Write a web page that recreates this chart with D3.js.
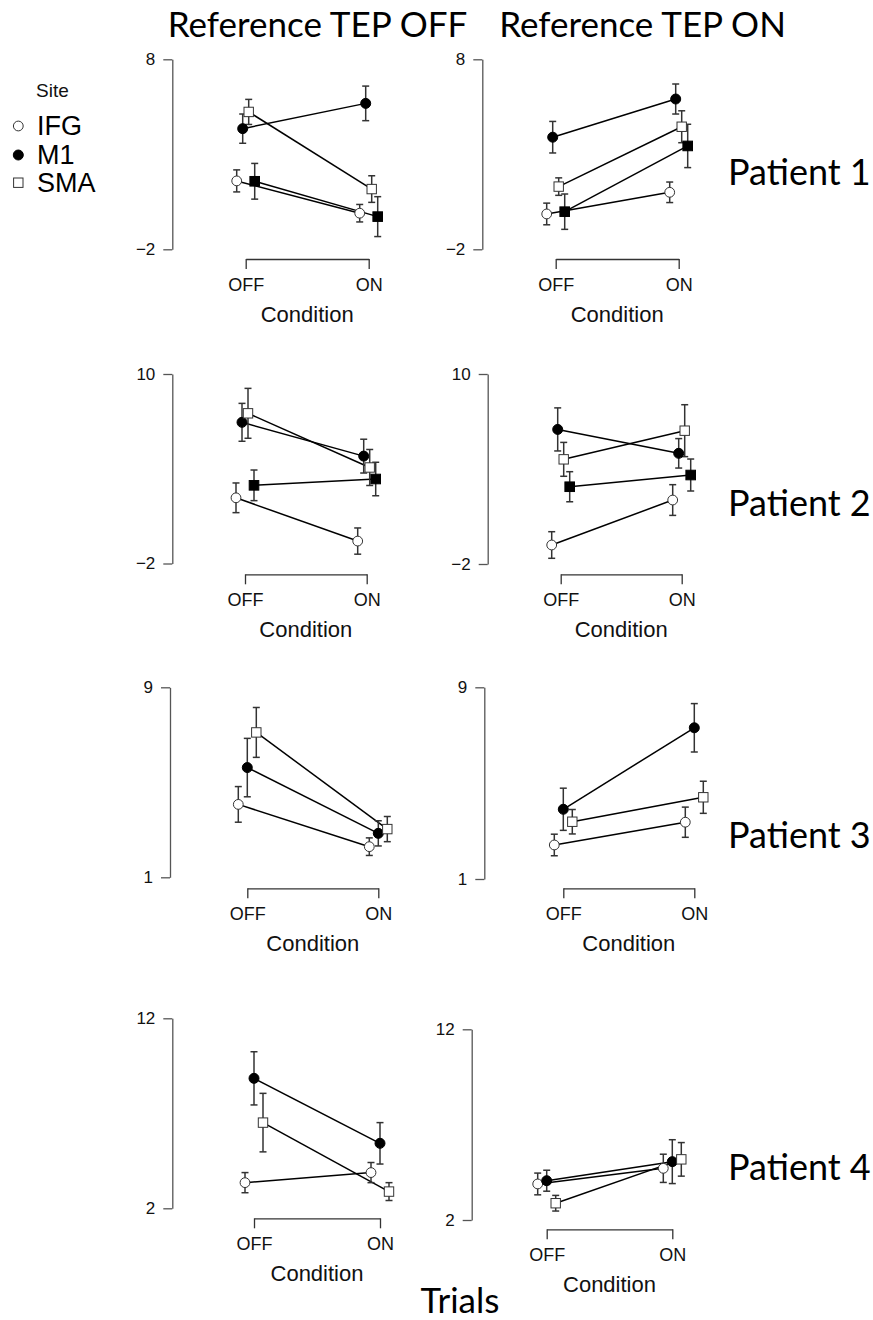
<!DOCTYPE html>
<html>
<head>
<meta charset="utf-8">
<script src="https://cdn.jsdelivr.net/npm/d3@7"></script>
<style>
  html, body { margin: 0; padding: 0; background: #fff; }
  svg { display: block; }
</style>
</head>
<body>
<svg id="chart" width="873" height="1320"></svg>
<script>
// ---------------- DATA ----------------
const conditions = ["OFF", "ON"];
const references = ["Reference TEP OFF", "Reference TEP ON"];
const patients = ["Patient 1", "Patient 2", "Patient 3", "Patient 4"];
const legendSites = ["IFG", "M1", "SMA"];
// 4th series (filled square) appears in patients 1-2 only and is not labelled in the legend
const sites4 = ["IFG", "M1", "SMA", "Unlabelled"];
const sites3 = ["IFG", "M1", "SMA"];
const yTickValues = [[-2, 8], [-2, 10], [1, 9], [2, 12]];
const axisTitle = "Condition";
const bottomTitle = "Trials";

// means [OFF, ON] per site, per panel
const p1RefOffMeans = [[1.6, -0.1], [4.35, 5.68], [5.23, 1.17], [1.58, -0.28]];
const p1RefOffErr   = [[0.58, 0.46], [0.77, 0.91], [0.66, 0.70], [0.94, 1.05]];
const p1RefOnMeans  = [[-0.14, 1.0], [3.9, 5.91], [1.3, 4.45], [-0.02, 3.44]];
const p1RefOnErr    = [[0.57, 0.54], [0.83, 0.79], [0.46, 0.84], [0.93, 1.14]];

const p2RefOffMeans = [[2.16, -0.58], [6.94, 4.8], [7.51, 4.08], [2.95, 3.35]];
const p2RefOffErr   = [[0.94, 0.83], [1.2, 1.07], [1.58, 1.14], [0.97, 1.06]];
const p2RefOnMeans  = [[-0.8, 2.04], [6.5, 4.99], [4.61, 6.42], [2.88, 3.62]];
const p2RefOnErr    = [[0.84, 0.97], [1.36, 0.93], [1.07, 1.64], [0.95, 1.01]];

const p3RefOffMeans = [[4.07, 2.29], [5.62, 2.85], [7.1, 3.03]];
const p3RefOffErr   = [[0.75, 0.37], [1.23, 0.53], [1.05, 0.53]];
const p3RefOnMeans  = [[2.42, 3.37], [3.91, 7.31], [3.39, 4.41]];
const p3RefOnErr    = [[0.45, 0.63], [0.88, 1.01], [0.51, 0.67]];

const p4RefOffMeans = [[3.35, 3.88], [8.84, 5.42], [6.51, 2.88]];
const p4RefOffErr   = [[0.53, 0.53], [1.4, 1.09], [1.54, 0.47]];
const p4RefOnMeans  = [[3.89, 4.71], [4.06, 5.06], [2.88, 5.18]];
const p4RefOnErr    = [[0.57, 0.74], [0.55, 1.15], [0.41, 0.88]];

// ---------------- LAYOUT (positions only) ----------------
// yAxisX, yBottom, yTop, xOff, xOn, xAxisY
const panelFrames = [
  [[172.3, 249.3, 59.3, 245.7, 368.7, 259], [482.3, 249.3, 59.3, 555.7, 678.7, 259]],
  [[172.3, 563.5, 374, 245, 366.7, 574.3], [487.7, 564, 374, 560.7, 681.7, 574.3]],
  [[170, 877.3, 687.3, 247.3, 378.3, 888.3], [484.3, 879, 687.3, 563.3, 694.3, 888.3]],
  [[172.3, 1208.3, 1018.3, 254, 380, 1218.3], [471.7, 1220, 1029.3, 546.7, 672.3, 1229.3]]
];
const panelData = [
  [[p1RefOffMeans, p1RefOffErr], [p1RefOnMeans, p1RefOnErr]],
  [[p2RefOffMeans, p2RefOffErr], [p2RefOnMeans, p2RefOnErr]],
  [[p3RefOffMeans, p3RefOffErr], [p3RefOnMeans, p3RefOnErr]],
  [[p4RefOffMeans, p4RefOffErr], [p4RefOnMeans, p4RefOnErr]]
];
const patientLabelY = [185, 516, 848, 1180];

const sansR = "'Liberation Sans', Arial, sans-serif";
const sansC = "Lato, 'Open Sans', sans-serif";
const axisColor = "#555";

const svg = d3.select("#chart");

// symbol drawing
function drawMarker(g, site, x, y) {
  if (site === "IFG") {
    g.append("circle").attr("cx", x).attr("cy", y).attr("r", 4.9)
      .attr("fill", "#fff").attr("stroke", "#333").attr("stroke-width", 1);
  } else if (site === "M1") {
    g.append("circle").attr("cx", x).attr("cy", y).attr("r", 5)
      .attr("fill", "#000").attr("stroke", "#000").attr("stroke-width", 1);
  } else if (site === "SMA") {
    g.append("rect").attr("x", x - 4.7).attr("y", y - 4.7).attr("width", 9.4).attr("height", 9.4)
      .attr("fill", "#fff").attr("stroke", "#333").attr("stroke-width", 1);
  } else {
    g.append("rect").attr("x", x - 4.8).attr("y", y - 4.8).attr("width", 9.6).attr("height", 9.6)
      .attr("fill", "#000").attr("stroke", "#000").attr("stroke-width", 1);
  }
}

panelFrames.forEach((row, pi) => {
  row.forEach((f, ri) => {
    const [yAxisX, yBottom, yTop, xOff, xOn, xAxisY] = f;
    const [means, errs] = panelData[pi][ri];
    const sites = means.length === 4 ? sites4 : sites3;
    const g = svg.append("g");

    const y = d3.scaleLinear().domain(yTickValues[pi]).range([yBottom, yTop]);
    const x = d3.scalePoint().domain(conditions).range([xOff, xOn]);
    const dodge = d3.scalePoint().domain(sites).range([-9, 9]);

    // y axis
    const yAx = g.append("g").attr("transform", `translate(${yAxisX},0)`)
      .call(d3.axisLeft(y).tickValues(yTickValues[pi]).tickSize(9).tickSizeOuter(0).tickPadding(8));
    yAx.attr("font-size", null).attr("font-family", null);
    yAx.selectAll("path,line").attr("stroke", axisColor).attr("stroke-width", 1.3);
    yAx.selectAll("text").style("font-family", sansR).style("font-size", "17px").attr("fill", "#111");

    // x axis
    const xAx = g.append("g").attr("transform", `translate(0,${xAxisY})`)
      .call(d3.axisBottom(x).tickSize(10).tickSizeOuter(0).tickPadding(9));
    xAx.attr("font-size", null).attr("font-family", null);
    xAx.selectAll("path,line").attr("stroke", "#333").attr("stroke-width", 1.3);
    xAx.selectAll("text").style("font-family", sansR).style("font-size", "18px").attr("fill", "#111");
    g.append("text").attr("x", (xOff + xOn) / 2).attr("y", xAxisY + 62.5)
      .attr("text-anchor", "middle").style("font-family", sansR).style("font-size", "22px")
      .attr("fill", "#111").text(axisTitle);

    // series
    sites.forEach((site, si) => {
      const pts = conditions.map((c, ci) => ({
        px: x(c) + dodge(site),
        m: means[si][ci],
        e: errs[si][ci]
      }));
      g.append("path")
        .attr("d", d3.line().x(d => d.px).y(d => y(d.m))(pts))
        .attr("fill", "none").attr("stroke", "#000").attr("stroke-width", 1.5);
    });
    sites.forEach((site, si) => {
      const eg = g.append("g");
      conditions.forEach((c, ci) => {
        const px = x(c) + dodge(site);
        const lo = y(means[si][ci] - errs[si][ci]);
        const hi = y(means[si][ci] + errs[si][ci]);
        eg.append("line").attr("x1", px).attr("x2", px).attr("y1", lo).attr("y2", hi)
          .attr("stroke", "#333").attr("stroke-width", 1.5);
        [lo, hi].forEach(yy => eg.append("line").attr("x1", px - 3.5).attr("x2", px + 3.5)
          .attr("y1", yy).attr("y2", yy).attr("stroke", "#333").attr("stroke-width", 1.5));
      });
    });
    sites.forEach((site, si) => {
      conditions.forEach((c, ci) => {
        drawMarker(g, site, x(c) + dodge(site), y(means[si][ci]));
      });
    });
  });
});

// column titles
const titleX = [317.5, 642.5];
references.forEach((t, i) => {
  svg.append("text").attr("x", titleX[i]).attr("y", 37)
    .attr("text-anchor", "middle").style("font-family", sansC).style("font-size", "35px")
    .attr("fill", "#000").text(t);
});

// patient labels
patients.forEach((p, i) => {
  svg.append("text").attr("x", 728).attr("y", patientLabelY[i])
    .style("font-family", sansC).style("font-size", "36px").attr("fill", "#000").text(p);
});

// bottom title
svg.append("text").attr("x", 460).attr("y", 1313).attr("text-anchor", "middle")
  .style("font-family", sansC).style("font-size", "35px").attr("fill", "#000").text(bottomTitle);

// legend
const lg = svg.append("g");
lg.append("text").attr("x", 36).attr("y", 97).style("font-family", sansR)
  .style("font-size", "19px").attr("fill", "#111").text("Site");
const legY = [126, 155, 182.7];
const legBase = [134.5, 163.5, 191.5];
legendSites.forEach((s, i) => {
  drawMarker(lg, s, 18.3, legY[i]);
  lg.append("text").attr("x", 37).attr("y", legBase[i]).style("font-family", sansR)
    .style("font-size", "27px").attr("fill", "#000").text(s);
});
</script>
</body>
</html>
